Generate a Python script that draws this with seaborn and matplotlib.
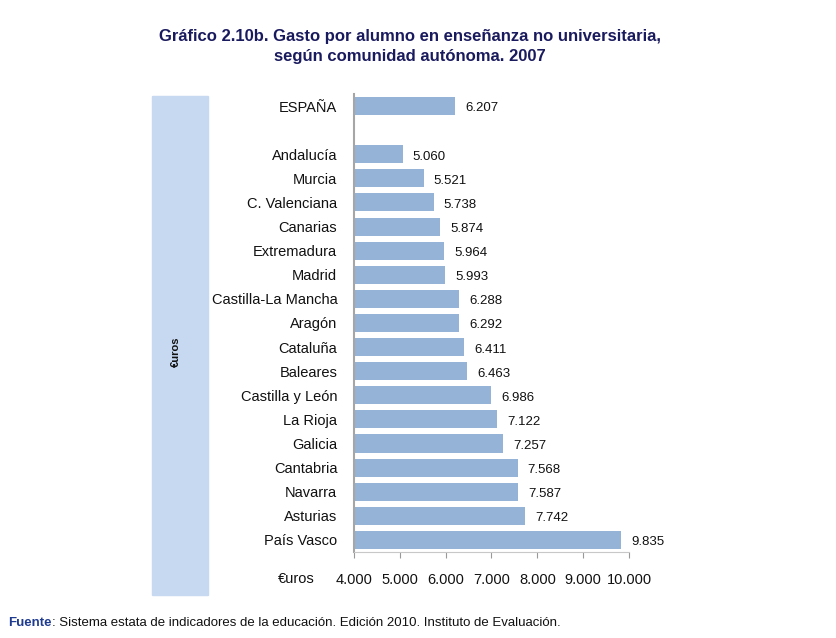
import matplotlib
matplotlib.use("Agg")
import matplotlib.pyplot as plt
import matplotlib.patches as mpatches
import seaborn as sns
import pandas as pd

# data (euros per student, 2007)
regiones = ["ESPAÑA", "Andalucía", "Murcia", "C. Valenciana", "Canarias", "Extremadura",
            "Madrid", "Castilla-La Mancha", "Aragón", "Cataluña", "Baleares",
            "Castilla y León", "La Rioja", "Galicia", "Cantabria", "Navarra",
            "Asturias", "País Vasco"]
gasto = [6207, 5060, 5521, 5738, 5874, 5964, 5993, 6288, 6292, 6411, 6463,
         6986, 7122, 7257, 7568, 7587, 7742, 9835]
xticks = [4000, 5000, 6000, 7000, 8000, 9000, 10000]

# blank slot between ESPAÑA and the regions
orden = [regiones[0], " "] + regiones[1:]

df = pd.DataFrame({"region": regiones, "gasto": gasto})
base = 4000

sns.set_theme(style="white")
plt.rcParams["font.family"] = ["Liberation Sans", "DejaVu Sans"]

fig = plt.figure(figsize=(8.36, 6.38), dpi=100)
ax = fig.add_axes([0.4234, 0.1348, 0.7524 - 0.4234, 0.8527 - 0.1348])

sns.barplot(data=df, y="region", x="gasto", order=orden, orient="h",
            color="#95B3D7", saturation=1, width=0.75, linewidth=0, ax=ax)

ax.set_xlim(base, 10000)
ax.set_xticks(xticks)
ax.set_xticklabels([f"{v:,}".replace(",", ".") for v in xticks], fontsize=10.5)
ax.set_xlabel("")
ax.set_ylabel("")
ax.tick_params(axis="y", length=0, pad=12, labelsize=10.5, labelcolor="#111111")
ax.tick_params(axis="x", direction="out", length=4, width=0.8, color="#999999",
               pad=11, labelcolor="#111111", bottom=True)

for s in ["top", "right"]:
    ax.spines[s].set_visible(False)
ax.spines["left"].set_color("#a6a6a6")
ax.spines["left"].set_linewidth(1.5)
ax.spines["bottom"].set_color("#c8c8c8")
ax.spines["bottom"].set_linewidth(0.8)

# value labels
for i, v in enumerate(gasto):
    pos = orden.index(regiones[i])
    ax.text(v + 220, pos + 0.1, f"{v:,}".replace(",", "."), va="center", ha="left",
            fontsize=9.5, color="#111111")

# left strip with axis title
fig.patches.append(mpatches.Rectangle((152 / 836, 1 - 595 / 638), 56 / 836, 499 / 638,
                                      transform=fig.transFigure, color="#C6D9F1", zorder=0))
fig.text(176 / 836, 1 - 352 / 638, "€uros", rotation=90, fontsize=8, fontweight="bold",
         ha="center", va="center", color="#111111")
fig.text(296 / 836, 1 - 579 / 638, "€uros", fontsize=10.5, ha="center", va="center",
         color="#111111")

# title
fig.text(410 / 836, 1 - 37 / 638, "Gráfico 2.10b. Gasto por alumno en enseñanza no universitaria,",
         fontsize=12, fontweight="bold", ha="center", va="center", color="#1a1a5e")
fig.text(410 / 836, 1 - 57 / 638, "según comunidad autónoma. 2007",
         fontsize=12, fontweight="bold", ha="center", va="center", color="#1a1a5e")

# source line
t1 = fig.text(8 / 836, 1 - 623 / 638, "Fuente", fontsize=9.5, fontweight="bold",
              color="#1f3b8f", va="center", ha="left")
ax.annotate(": Sistema estata de indicadores de la educación. Edición 2010. Instituto de Evaluación.",
            xy=(1, 0.5), xycoords=t1, va="center", ha="left", fontsize=9.5, color="#111111",
            annotation_clip=False)

fig.savefig("out.png", dpi=100)
